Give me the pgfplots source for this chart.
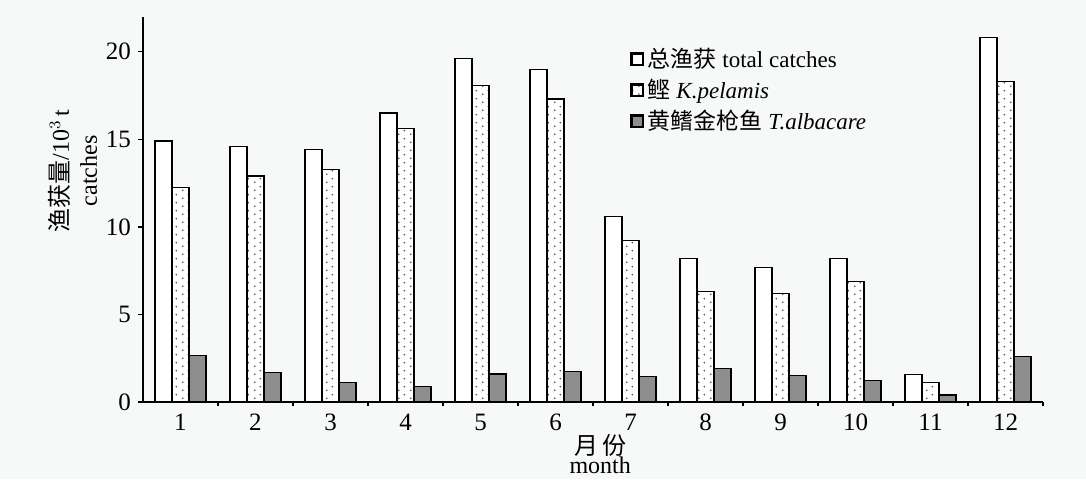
\documentclass[border=0pt]{standalone}
\usepackage{fontspec}
\setmainfont{Liberation Serif}
\newfontfamily\cjk{Noto Sans CJK SC}
\usepackage{pgfplots}
\pgfplotsset{compat=1.18}
\usetikzlibrary{patterns.meta}
\definecolor{bgc}{HTML}{F7F8F8}
\definecolor{darkgray}{HTML}{8E8E8E}
\tikzdeclarepattern{
  name=sparsedots,
  type=uncolored,
  bounding box={(0pt,0pt) and (6pt,4pt)},
  tile size={(6pt,4pt)},
  code={
    \fill (1.5pt,1pt) circle (0.5pt);
    \fill (4.5pt,3pt) circle (0.5pt);
  }
}
\begin{document}
\begin{tikzpicture}
\fill[bgc] (-71.5pt,-38.5pt) rectangle (471.5pt,201pt);
\begin{axis}[
  at={(0,0)}, anchor=south west,
  scale only axis,
  width=450pt, height=192.7pt,
  xmin=0.5, xmax=12.5,
  ymin=0, ymax=22,
  axis x line=bottom, axis y line=left,
  axis line style={-, line width=0.7pt},
  ybar=0pt, bar width=0.227,
  xtick={1,...,12},
  minor xtick={1.5,2.5,...,11.5,12.5},
  major x tick style={draw=none},
  minor x tick style={black, line width=0.7pt},
  minor tick length=2pt,
  ytick={0,5,10,15,20},
  tick align=outside,
  major tick length=2.5pt,
  y tick style={black, line width=0.7pt},
  /pgf/number format/assume math mode=true,
  tick label style={font=\fontsize{12.5}{14}\selectfont},
  ylabel={{\cjk 渔获量}/10$^{3}$\,t\\[1pt]catches},
  ylabel style={align=center, at={(axis description cs:-0.078,0.6)}, anchor=center, font=\fontsize{12}{13}\selectfont},
  xlabel={{\cjk 月\hspace{2pt}份}\\month},
  xlabel style={align=center, at={(axis description cs:0.508,-0.136)}, anchor=center, font=\fontsize{12}{9.5}\selectfont},
  legend style={at={(axis description cs:0.541,0.93)}, anchor=north west, draw=none, fill=none,
    font=\fontsize{11.5}{13}\selectfont, row sep=0.3pt, inner sep=0pt},
  legend cell align=left,
]
\addplot[draw=black, line width=0.6pt, fill=white,
  legend image code/.code={\draw[black, fill=white, line width=1.1pt] (0pt,-2.8pt) rectangle (5.6pt,2.8pt);}]
coordinates {(1,14.9) (2,14.6) (3,14.4) (4,16.5) (5,19.6) (6,19.0) (7,10.6) (8,8.2) (9,7.7) (10,8.2) (11,1.55) (12,20.8)};
\addlegendentry{{\cjk 总渔获} total catches}
\addplot[draw=black, line width=0.6pt, fill=white, postaction={pattern=sparsedots, pattern color=black!70},
  legend image code/.code={\draw[black, fill=white, line width=1.1pt] (0pt,-2.8pt) rectangle (5.6pt,2.8pt);}]
coordinates {(1,12.25) (2,12.9) (3,13.25) (4,15.6) (5,18.05) (6,17.3) (7,9.2) (8,6.3) (9,6.2) (10,6.9) (11,1.1) (12,18.3)};
\addlegendentry{{\cjk 鲣} \textit{K.pelamis}}
\addplot[draw=black, line width=0.6pt, fill=darkgray,
  legend image code/.code={\draw[black, fill=darkgray, line width=1.1pt] (0pt,-2.8pt) rectangle (5.6pt,2.8pt);}]
coordinates {(1,2.65) (2,1.7) (3,1.1) (4,0.9) (5,1.6) (6,1.75) (7,1.45) (8,1.9) (9,1.5) (10,1.25) (11,0.4) (12,2.6)};
\addlegendentry{{\cjk 黄鳍金枪鱼} \textit{T.albacare}}
\end{axis}
\pgfresetboundingbox
\path[use as bounding box] (-71.5pt,-38.5pt) rectangle (471.5pt,201pt);
\end{tikzpicture}
\end{document}
